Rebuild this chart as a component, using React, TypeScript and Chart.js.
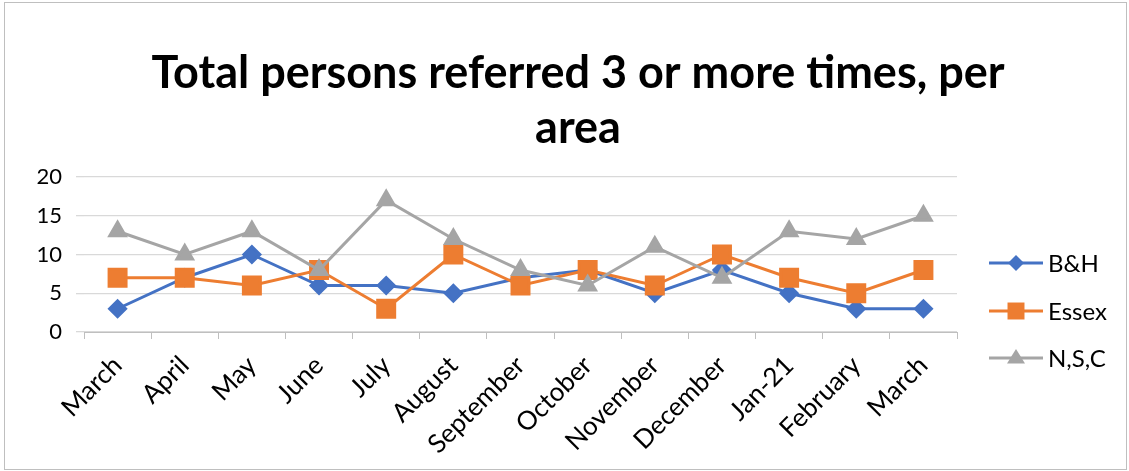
import React, { useEffect, useRef } from "react";
import { Chart, registerables } from "chart.js";

Chart.register(...registerables);

const categories = ["March", "April", "May", "June", "July", "August", "September", "October", "November", "December", "Jan-21", "February", "March"];
const bhValues = [3, 7, 10, 6, 6, 5, 7, 8, 5, 8, 5, 3, 3];
const essexValues = [7, 7, 6, 8, 3, 10, 6, 8, 6, 10, 7, 5, 8];
const nscValues = [13, 10, 13, 8, 17, 12, 8, 6, 11, 7, 13, 12, 15];
const seriesNames = ["B&H", "Essex", "N,S,C"];
const titleLines = ["Total persons referred 3 or more times, per", "area"];
const yTicks = [0, 5, 10, 15, 20];

const BLUE = "#4472C4";
const ORANGE = "#ED7D31";
const GRAY = "#A5A5A5";
const FONT = "Lato, 'Open Sans', sans-serif";

function marker(ctx: CanvasRenderingContext2D, style: string, r: number, x: number, y: number) {
  ctx.beginPath();
  if (style === "rectRot") {
    ctx.moveTo(x, y - r);
    ctx.lineTo(x + r, y);
    ctx.lineTo(x, y + r);
    ctx.lineTo(x - r, y);
    ctx.closePath();
  } else if (style === "rect") {
    const s = Math.SQRT1_2 * r;
    ctx.rect(x - s, y - s, 2 * s, 2 * s);
  } else {
    ctx.moveTo(x, y - r);
    ctx.lineTo(x + r, y + r * 0.6);
    ctx.lineTo(x - r, y + r * 0.6);
    ctx.closePath();
  }
  ctx.fill();
}

const overlayPlugin = {
  id: "excelOverlay",
  afterDraw(chart: any) {
    const ctx = chart.ctx;
    ctx.save();
    // title
    ctx.fillStyle = "#000";
    ctx.font = `bold 45px ${FONT}`;
    ctx.textAlign = "center";
    ctx.textBaseline = "middle";
    const tys = [73, 128];
    titleLines.forEach((t, i) => ctx.fillText(t, 578, tys[i]));
    // legend
    const x0 = 989;
    const ys = [263, 311, 358];
    chart.data.datasets.forEach((ds: any, i: number) => {
      const y = ys[i];
      ctx.strokeStyle = ds.borderColor;
      ctx.lineWidth = 3;
      ctx.beginPath();
      ctx.moveTo(x0, y);
      ctx.lineTo(x0 + 54, y);
      ctx.stroke();
      ctx.fillStyle = ds.borderColor;
      marker(ctx, ds.pointStyle, ds.pointRadius, x0 + 27, y);
      ctx.fillStyle = "#000";
      ctx.font = `24px ${FONT}`;
      ctx.textBaseline = "middle";
      ctx.textAlign = "left";
      ctx.fillText(ds.label, x0 + 59, y + 1);
    });
    ctx.restore();
  },
};

export default function App() {
  const ref = useRef<HTMLCanvasElement | null>(null);
  useEffect(() => {
    if (!ref.current) return;
    const mk = (label: string, data: number[], color: string, style: string, r: number, order: number) => ({
      label,
      data,
      borderColor: color,
      backgroundColor: color,
      pointBackgroundColor: color,
      pointBorderColor: color,
      pointStyle: style,
      pointRadius: r,
      pointHoverRadius: r,
      borderWidth: 3,
      tension: 0,
      order,
    });
    const chart = new Chart(ref.current, {
      type: "line",
      data: {
        labels: categories,
        datasets: [
          mk(seriesNames[0], bhValues, BLUE, "rectRot", 8, 3),
          mk(seriesNames[1], essexValues, ORANGE, "rect", 12, 2),
          mk(seriesNames[2], nscValues, GRAY, "triangle", 9, 1),
        ] as any,
      },
      options: {
        animation: false,
        responsive: false,
        devicePixelRatio: 1,
        layout: { padding: { left: 0, right: 172, top: 177, bottom: 0 } },
        plugins: {
          legend: { display: false },
          tooltip: { enabled: false },
          title: { display: false },
        },
        scales: {
          x: {
            offset: true,
            grid: { offset: true, drawOnChartArea: false, drawTicks: true, tickLength: 7, color: "#BFBFBF", lineWidth: 1 },
            border: { display: true, color: "#BFBFBF", width: 1 },
            ticks: {
              color: "#000",
              font: { family: FONT, size: 26 },
              minRotation: 45,
              maxRotation: 45,
              autoSkip: false,
              padding: 11,
            },
            afterFit: (s: any) => { s.height = 139; },
          },
          y: {
            min: 0,
            max: 20,
            afterBuildTicks: (s: any) => { s.ticks = yTicks.map((v) => ({ value: v })); },
            grid: { color: "#D9D9D9", lineWidth: 1.3, tickLength: 8 },
            border: { display: false },
            ticks: { color: "#000", font: { family: FONT, size: 22 }, padding: 14 },
            afterFit: (s: any) => { s.width = 84; },
          },
        },
      },
      plugins: [overlayPlugin],
    });
    return () => chart.destroy();
  }, []);
  return (
    <div style={{ position: "absolute", left: 0, top: 0, width: 1129, height: 471, background: "#fff" }}>
      <canvas ref={ref} width={1129} height={471} style={{ position: "absolute", left: 0, top: 0, width: 1129, height: 471 }} />
      <div style={{ position: "absolute", left: 4, top: 2, width: 1121, height: 466, border: "1px solid #BFBFBF", pointerEvents: "none" }} />
    </div>
  );
}
